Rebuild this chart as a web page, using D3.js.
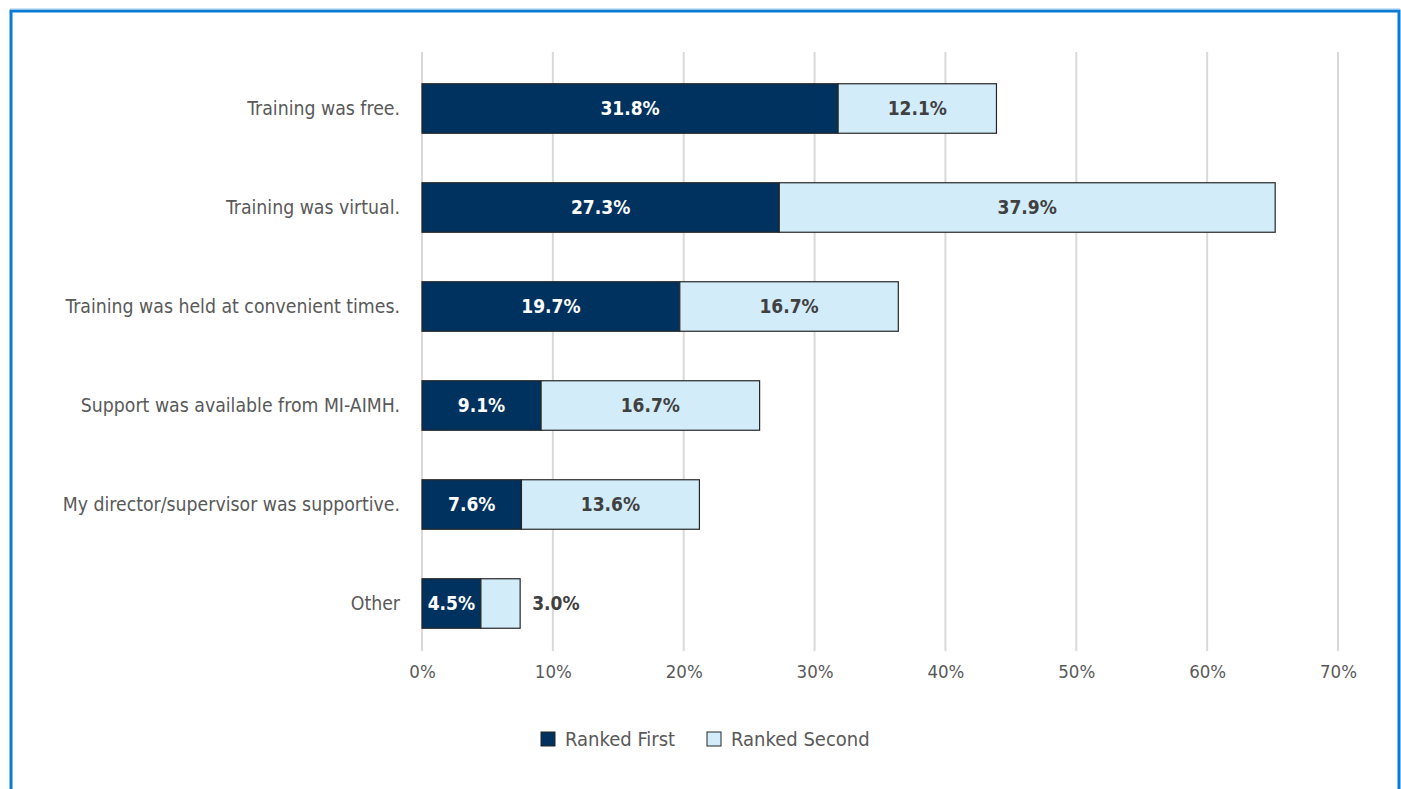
<!DOCTYPE html>
<html>
<head>
<meta charset="utf-8">
<script src="https://cdn.jsdelivr.net/npm/d3@7"></script>
<style>
  html, body { margin: 0; padding: 0; background: #fff; }
  svg { display: block; }
  text { font-family: "DejaVu Sans Condensed", "Liberation Sans Narrow", sans-serif; }
</style>
</head>
<body>
<svg id="chart" width="1401" height="789"></svg>
<script>
// Reasons that helped respondents complete training, ranked first and second
const categories = [
  "Training was free.",
  "Training was virtual.",
  "Training was held at convenient times.",
  "Support was available from MI-AIMH.",
  "My director/supervisor was supportive.",
  "Other"
];
const rankedFirst  = [31.8, 27.3, 19.7, 9.1, 7.6, 4.5];
const rankedSecond = [12.1, 37.9, 16.7, 16.7, 13.6, 3.0];
const seriesNames = ["Ranked First", "Ranked Second"];
const xTicks = [0, 10, 20, 30, 40, 50, 60, 70];

const FONT = '"DejaVu Sans Condensed", "Liberation Sans Narrow", sans-serif';
const svg = d3.select("#chart");
const W = 1401, H = 789;

// blue frame (open at the bottom)
svg.append("path")
  .attr("d", `M11,${H} L11,11 L1399,11 L1399,${H}`)
  .attr("fill", "none")
  .attr("stroke", "#0a7bd4")
  .attr("stroke-width", 3);
svg.append("line")
  .attr("x1", 10).attr("x2", 1400).attr("y1", 9).attr("y2", 9)
  .attr("stroke", "#9cc8ec").attr("stroke-width", 1);

const x = d3.scaleLinear().domain([0, 70]).range([422, 1338]);
const y = d3.scaleBand().domain(categories).range([59, 653]).paddingInner(0.5).paddingOuter(0.25);

// vertical gridlines
svg.append("g").selectAll("line").data(xTicks).join("line")
  .attr("x1", d => x(d)).attr("x2", d => x(d))
  .attr("y1", 52).attr("y2", 651)
  .attr("stroke", "#d9d9d9").attr("stroke-width", 2);

// x axis tick labels
const xAxis = d3.axisBottom(x).tickValues(xTicks).tickFormat(d => d + "%").tickSize(0).tickPadding(0);
const gx = svg.append("g").attr("transform", "translate(0,661)").call(xAxis);
gx.select(".domain").remove();
gx.selectAll("text")
  .attr("dy", "0.9em")
  .attr("font-size", 18.5)
  .attr("fill", "#595959")
  .style("font-family", FONT);

// category labels
const yAxis = d3.axisLeft(y).tickSize(0).tickPadding(22);
const gy = svg.append("g").attr("transform", `translate(${x(0)},0)`).call(yAxis);
gy.select(".domain").remove();
gy.selectAll("text")
  .attr("font-size", 19.3)
  .attr("fill", "#595959")
  .style("font-family", FONT);

const rows = categories.map((c, i) => ({ c, a: rankedFirst[i], b: rankedSecond[i] }));

// Ranked First segments
svg.append("g").selectAll("rect").data(rows).join("rect")
  .attr("x", x(0))
  .attr("y", d => y(d.c))
  .attr("width", d => x(d.a) - x(0))
  .attr("height", y.bandwidth())
  .attr("fill", "#00325f")
  .attr("stroke", "#262626").attr("stroke-width", 1.2);

// Ranked Second segments
svg.append("g").selectAll("rect").data(rows).join("rect")
  .attr("x", d => x(d.a))
  .attr("y", d => y(d.c))
  .attr("width", d => x(d.a + d.b) - x(d.a))
  .attr("height", y.bandwidth())
  .attr("fill", "#d3ecfa")
  .attr("stroke", "#262626").attr("stroke-width", 1.2);

// value labels
svg.append("g").selectAll("text").data(rows).join("text")
  .attr("x", d => (x(0) + x(d.a)) / 2)
  .attr("y", d => y(d.c) + y.bandwidth() / 2)
  .attr("dy", "0.35em")
  .attr("text-anchor", "middle")
  .attr("font-size", 19).attr("font-weight", "bold")
  .attr("fill", "#ffffff")
  .text(d => d.a.toFixed(1) + "%");

const narrow = d => (x(d.a + d.b) - x(d.a)) < 60;
svg.append("g").selectAll("text").data(rows).join("text")
  .attr("x", d => narrow(d) ? x(d.a + d.b) + 12 : (x(d.a) + x(d.a + d.b)) / 2)
  .attr("y", d => y(d.c) + y.bandwidth() / 2)
  .attr("dy", "0.35em")
  .attr("text-anchor", d => narrow(d) ? "start" : "middle")
  .attr("font-size", 19).attr("font-weight", "bold")
  .attr("fill", "#404040")
  .text(d => d.b.toFixed(1) + "%");

// legend
const legendColors = ["#00325f", "#d3ecfa"];
const legendX = [541, 707];
const lg = svg.append("g");
seriesNames.forEach((n, i) => {
  lg.append("rect")
    .attr("x", legendX[i]).attr("y", 732)
    .attr("width", 14).attr("height", 14)
    .attr("fill", legendColors[i])
    .attr("stroke", "#262626").attr("stroke-width", 1);
  lg.append("text")
    .attr("x", legendX[i] + 24).attr("y", 739)
    .attr("dy", "0.35em")
    .attr("font-size", 20)
    .attr("fill", "#595959")
    .text(n);
});
</script>
</body>
</html>
